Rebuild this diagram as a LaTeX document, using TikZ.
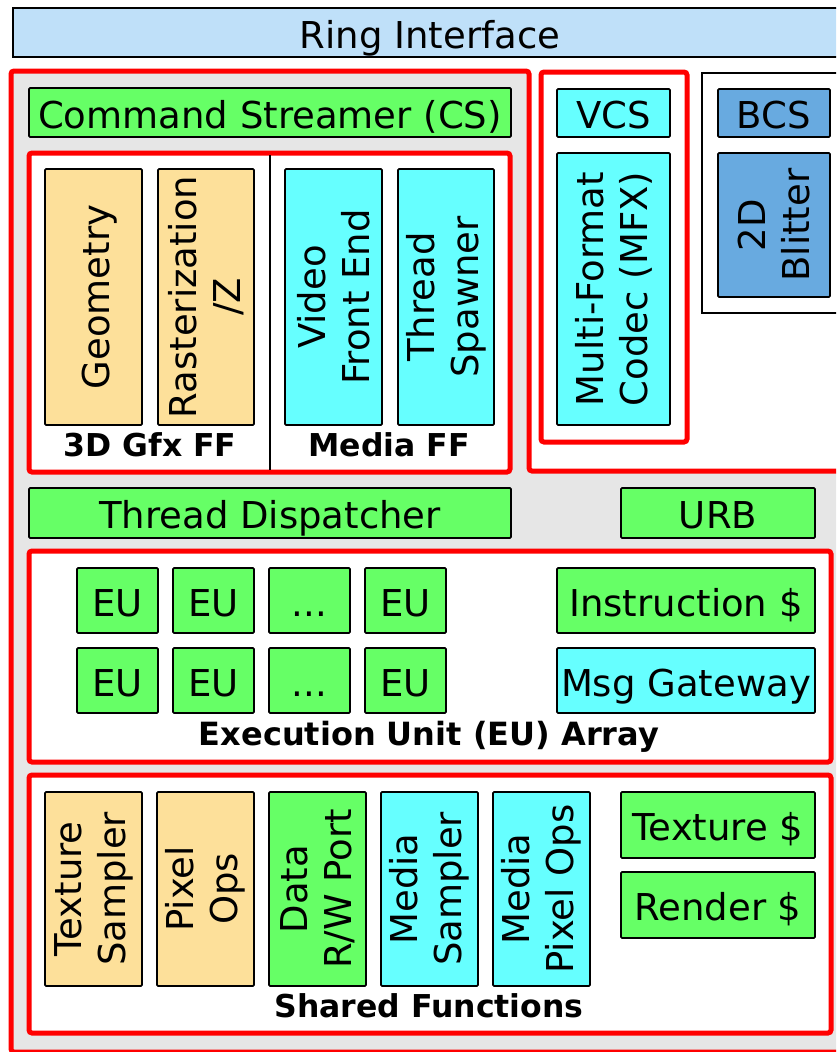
\documentclass[tikz,border=0pt]{standalone}
\usepackage{fontspec}
\setmainfont{DejaVu Sans}
\definecolor{ringblue}{RGB}{191,224,249}
\definecolor{bggrey}{RGB}{230,230,230}
\definecolor{gfill}{RGB}{102,255,102}
\definecolor{ofill}{RGB}{253,224,154}
\definecolor{cfill}{RGB}{102,255,255}
\definecolor{bfill}{RGB}{104,170,224}
\newcommand\blk[7]{\node[box,hline,#6,minimum width={#4-#2},minimum height={#5-#3}] (#1) at ({(#2+#4)/2},{(#3+#5)/2}) {#7};}
\newcommand\vblk[7]{\node[box,#6,rotate=90,minimum width={#5-#3},minimum height={#4-#2}] (#1) at ({(#2+#4)/2},{(#3+#5)/2}) {#7};}
\newcommand\cont[6]{\node[#6,minimum width={#4-#2},minimum height={#5-#3}] (#1) at ({(#2+#4)/2},{(#3+#5)/2}) {};}
\begin{document}
\begin{tikzpicture}[x=1pt,y=-1pt,
  box/.style={draw=black,line width=1.8pt,rounded corners=1.2pt,inner sep=0pt,align=center,font=\fontsize{37}{44}\selectfont},
  hline/.style={text height=35pt,text depth=4pt},
  green/.style={fill=gfill},
  orange/.style={fill=ofill},
  cyan/.style={fill=cfill},
  blue/.style={fill=bfill},
  redbox/.style={draw=red,line width=5pt,rounded corners=3pt,fill=white,inner sep=0pt},
  plainbox/.style={draw=black,line width=1.8pt,fill=white,inner sep=0pt},
  lbl/.style={font=\fontsize{31.5}{36}\bfseries\selectfont,inner sep=0pt,text height=23pt,text depth=3pt}]
\clip (0,0) rectangle (836,1052);
\fill[white] (0,0) rectangle (836,1052);
% ring interface
\blk{ring}{13}{8}{847}{57}{fill=ringblue,rounded corners=0pt}{Ring Interface}
% main grey region
\draw[draw=red,line width=5pt,fill=bggrey,rounded corners=3pt]
  (11,71) -- (529,71) -- (529,471) -- (850,471) -- (850,1052) -- (11,1052) -- cycle;
% command streamer
\blk{cs}{29}{88}{511}{137}{green}{Command Streamer (CS)}
% FF container
\cont{ff}{29}{153}{510}{472}{redbox}
\draw[line width=1.6pt] (270,155) -- (270,470);
\vblk{geo}{45}{169}{142}{425}{orange,hline}{Geometry}
\vblk{rast}{158}{169}{254}{425}{orange}{Rasterization\\/Z}
\vblk{vfe}{285}{169}{382}{425}{cyan}{Video\\Front End}
\vblk{ts}{398}{169}{494}{425}{cyan}{Thread\\Spawner}
\node[lbl] (gfxlbl) at (150,446) {3D Gfx FF};
\node[lbl] (medlbl) at (389,446) {Media FF};
% VCS container
\cont{vcsc}{541}{72}{687}{442}{redbox}
\blk{vcs}{557}{89}{670}{137}{cyan}{VCS}
\vblk{mfx}{557}{153}{670}{425}{cyan}{Multi-Format\\Codec (MFX)}
% blitter container
\cont{bltc}{702}{73}{850}{313}{plainbox}
\blk{bcs}{718}{89}{830}{137}{blue}{BCS}
\vblk{blt}{718}{153}{830}{297}{blue}{2D\\Blitter}
% dispatcher, URB
\blk{td}{29}{488}{511}{538}{green}{Thread Dispatcher}
\blk{urb}{621}{488}{815}{538}{green}{URB}
% EU array
\cont{eua}{29}{551}{831}{762}{redbox}
\blk{eu1}{77}{568}{158}{633}{green}{EU}
\blk{eu2}{173}{568}{254}{633}{green}{EU}
\blk{eu3}{269}{568}{350}{633}{green}{...}
\blk{eu4}{365}{568}{446}{633}{green}{EU}
\blk{eu5}{77}{648}{158}{713}{green}{EU}
\blk{eu6}{173}{648}{254}{713}{green}{EU}
\blk{eu7}{269}{648}{350}{713}{green}{...}
\blk{eu8}{365}{648}{446}{713}{green}{EU}
\blk{ic}{557}{568}{815}{633}{green}{Instruction \$}
\blk{msg}{557}{648}{815}{713}{cyan}{Msg Gateway}
\node[lbl,font=\fontsize{32}{36}\bfseries\selectfont] (eulbl) at (429,735) {Execution Unit (EU) Array};
% shared functions
\cont{sf}{29}{775}{831}{1033}{redbox}
\vblk{tsamp}{45}{792}{142}{986}{orange}{Texture\\Sampler}
\vblk{pix}{157}{792}{254}{986}{orange}{Pixel\\Ops}
\vblk{data}{269}{792}{366}{986}{green}{Data\\R/W Port}
\vblk{msamp}{381}{792}{478}{986}{cyan}{Media\\Sampler}
\vblk{mpix}{493}{792}{590}{986}{cyan}{Media\\Pixel Ops}
\blk{tc}{621}{792}{815}{858}{green}{Texture \$}
\blk{rc}{621}{872}{815}{938}{green}{Render \$}
\node[lbl] (sflbl) at (429,1007) {Shared Functions};
\end{tikzpicture}
\end{document}
